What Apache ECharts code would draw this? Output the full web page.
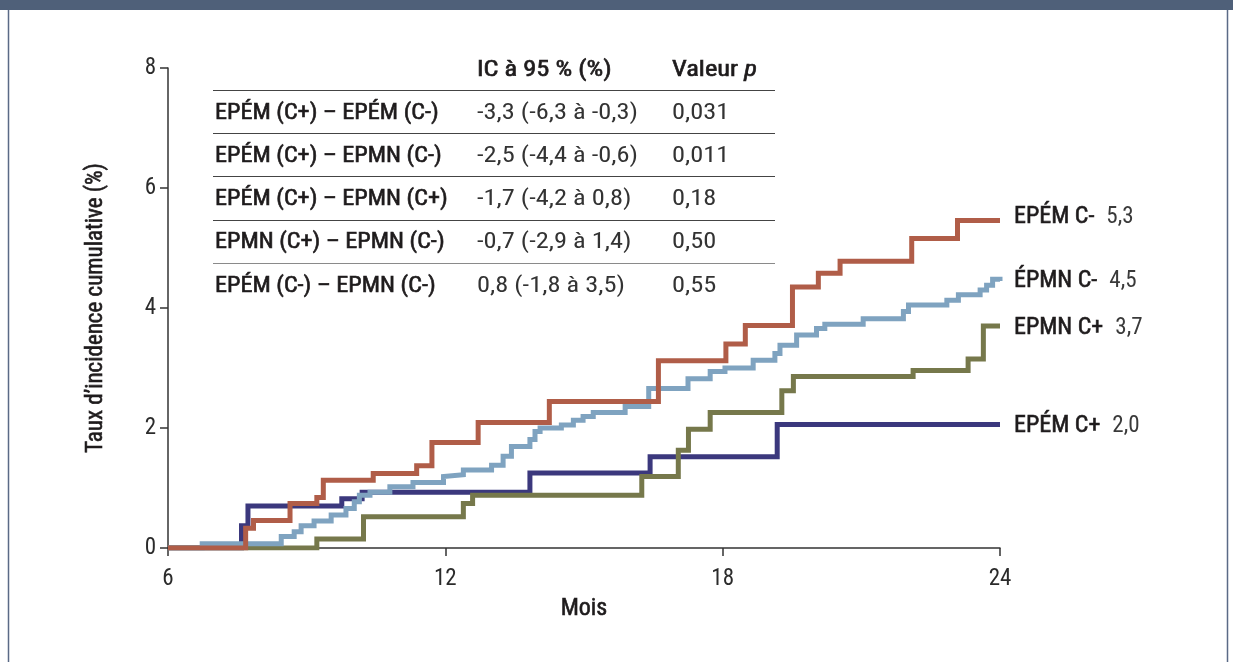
<!DOCTYPE html>
<html><head><meta charset="utf-8">
<script src="https://cdn.jsdelivr.net/npm/echarts@6/dist/echarts.min.js"></script>
<style>
html,body{margin:0;padding:0;background:#fff;}
#chart{position:absolute;left:0;top:0;width:1233px;height:662px;}
</style></head>
<body>
<div id="chart"></div>
<script>
// ---- Data ----
const seriesNames = ['EPÉM C+', 'EPMN C+', 'ÉPMN C-', 'EPÉM C-'];
const endValues = ['2,0', '3,7', '4,5', '5,3'];
// [month of step, new cumulative incidence %]
const epemCplus = [[6,0],[7.59,0.37],[7.73,0.70],[9.76,0.82],[10.2,0.93],[13.83,1.25],[16.43,1.52],[19.18,2.06],[24,2.06]];
const epmnCplus = [[6,0],[9.22,0.15],[10.23,0.52],[12.39,0.74],[12.59,0.88],[16.25,1.19],[17.04,1.63],[17.26,1.98],[17.73,2.26],[19.28,2.62],[19.53,2.86],[22.12,2.96],[23.31,3.15],[23.64,3.70],[24,3.70]];
const epmnCminus = [[6,0],[6.74,0.07],[8.45,0.19],[8.73,0.27],[8.88,0.37],[9.16,0.45],[9.53,0.55],[9.85,0.66],[10.03,0.77],[10.14,0.88],[10.37,0.93],[10.8,1.02],[11.3,1.09],[11.96,1.19],[12.0,1.22],[12.39,1.30],[13.0,1.38],[13.25,1.53],[13.43,1.69],[13.83,1.81],[13.94,1.94],[14.05,2.00],[14.51,2.05],[14.77,2.13],[14.98,2.19],[15.2,2.26],[15.89,2.36],[16.4,2.66],[17.25,2.82],[17.73,2.94],[18.05,3.0],[18.66,3.13],[19.13,3.24],[19.24,3.38],[19.6,3.55],[20.03,3.66],[20.21,3.73],[21.04,3.82],[21.91,3.94],[22.02,4.05],[22.85,4.13],[23.1,4.22],[23.57,4.30],[23.71,4.38],[23.84,4.48],[24,4.45]];
const epemCminus = [[6,0],[7.68,0.33],[7.85,0.46],[8.64,0.74],[9.22,0.84],[9.36,1.13],[10.44,1.24],[11.38,1.37],[11.71,1.76],[12.71,2.09],[14.25,2.44],[16.61,3.12],[18.07,3.40],[18.49,3.71],[19.51,4.35],[20.07,4.58],[20.54,4.78],[22.09,5.16],[23.08,5.46],[24,5.46]];
const seriesData = [epemCplus, epmnCplus, epmnCminus, epemCminus];
const seriesColors = ['#3b387d', '#76784b', '#7fa3c0', '#b05d48'];

const xTicks = [6, 12, 18, 24];
const yTicks = [0, 2, 4, 6, 8];

const tableHeader = ['', 'IC à 95 % (%)', 'Valeur ', 'p'];
const tableRows = [
  ['EPÉM (C+) – EPÉM (C-)', '-3,3 (-6,3 à -0,3)', '0,031'],
  ['EPÉM (C+) – EPMN (C-)', '-2,5 (-4,4 à -0,6)', '0,011'],
  ['EPÉM (C+) – EPMN (C+)', '-1,7 (-4,2 à 0,8)', '0,18'],
  ['EPMN (C+) – EPMN (C-)', '-0,7 (-2,9 à 1,4)', '0,50'],
  ['EPÉM (C-) – EPMN (C-)', '0,8 (-1,8 à 3,5)', '0,55']
];

// ---- Layout ----
const FONT = "'Liberation Sans Narrow', 'Roboto Condensed', 'Roboto', sans-serif";
const TXT = '#1e1b1c';
const VAL = '#333333';
const chart = echarts.init(document.getElementById('chart'), null, {renderer: 'canvas'});

const graphics = [];
graphics.push({type:'rect', shape:{x:0,y:0,width:1233,height:10}, style:{fill:'#4f6079'}, silent:true});
graphics.push({type:'line', shape:{x1:8.5,y1:10,x2:8.5,y2:662}, style:{stroke:'#5a6a86', lineWidth:1.5}, silent:true});
graphics.push({type:'line', shape:{x1:1227.5,y1:10,x2:1227.5,y2:662}, style:{stroke:'#5a6a86', lineWidth:1.5}, silent:true});

// table
const colX = [215, 477, 672];
const rowY0 = 70, rowH = 43.2;
const lineX1 = 213, lineX2 = 775;
function txt(x, cy, text, font, fill, sx, medium) {
  const st = {text: text, font: font, fill: fill, verticalAlign: 'middle', align: 'left'};
  if (medium) { st.stroke = fill; st.lineWidth = 0.6; }
  graphics.push({type:'text', x: x, y: cy, scaleX: sx, style: st, silent: true});
}
const REG = '22px ' + FONT;
const measureCtx = document.createElement('canvas').getContext('2d');
measureCtx.font = REG;
const valeurW = measureCtx.measureText(tableHeader[2]).width * 1.2;
txt(colX[1], rowY0, tableHeader[1], REG, TXT, 1.2, true);
txt(colX[2], rowY0, tableHeader[2], REG, TXT, 1.2, true);
txt(colX[2] + valeurW, rowY0, tableHeader[3], 'italic 22px ' + FONT, TXT, 1.2, true);
for (let r = 0; r < tableRows.length; r++) {
  const ly = Math.round(rowY0 + 20 + r * rowH) + 0.5;
  graphics.push({type:'line', shape:{x1:lineX1, y1:ly, x2:lineX2, y2:ly}, style:{stroke: r===tableRows.length-1 ? '#8a8a8a' : '#444', lineWidth:1.2}, silent:true});
}
tableRows.forEach((row, r) => {
  const cy = rowY0 + (r + 1) * rowH;
  txt(colX[0], cy, row[0], REG, TXT, 1.1, true);
  txt(colX[1], cy, row[1], REG, VAL, 1.2, false);
  txt(colX[2], cy, row[2], REG, VAL, 1.2, false);
});

const endLabelOffsets = [[0,2],[0,2],[0,0],[0,-3]];

const option = {
  animation: false,
  backgroundColor: '#fff',
  grid: {left: 168, right: 233, top: 68, bottom: 114, containLabel: false},
  xAxis: {
    type: 'value', min: 6, max: 24, interval: 6,
    name: 'Mois', nameLocation: 'middle', nameGap: 49,
    nameTextStyle: {fontFamily: FONT, fontSize: 24, color: TXT, textBorderColor: TXT, textBorderWidth: 0.6},
    axisLine: {show: true, onZero: false, lineStyle: {color: '#333', width: 1.5}},
    axisTick: {show: true, length: 8, lineStyle: {color: '#333', width: 1.5}},
    axisLabel: {margin: 20, fontFamily: FONT, fontSize: 23, color: '#2b2b2b',
      formatter: v => xTicks.includes(v) ? String(v) : ''},
    splitLine: {show: false}
  },
  yAxis: {
    type: 'value', min: 0, max: 8, interval: 2,
    name: "Taux d’incidence cumulative (%)", nameLocation: 'middle', nameGap: 60,
    nameTextStyle: {fontFamily: FONT, fontSize: 23, color: TXT, textBorderColor: TXT, textBorderWidth: 0.6},
    axisLine: {show: true, lineStyle: {color: '#333', width: 1.5}},
    axisTick: {show: true, length: 8, lineStyle: {color: '#333', width: 1.5}},
    axisLabel: {margin: 12, fontFamily: FONT, fontSize: 23, color: '#2b2b2b',
      formatter: v => yTicks.includes(v) ? String(v) : ''},
    splitLine: {show: false}
  },
  series: seriesData.map((d, i) => ({
    type: 'line', name: seriesNames[i], data: d, step: 'end', showSymbol: false, symbol: 'none',
    z: 2 + i,
    lineStyle: {color: seriesColors[i], width: 5, cap: 'butt', join: 'miter'},
    itemStyle: {color: seriesColors[i]},
    endLabel: {
      show: true, distance: 14, offset: endLabelOffsets[i],
      formatter: () => '{n|' + seriesNames[i] + '}{v|' + endValues[i] + '}',
      rich: {
        n: {fontFamily: FONT, fontSize: 24, color: TXT, textBorderColor: TXT, textBorderWidth: 0.6},
        v: {fontFamily: FONT, fontSize: 23, color: '#3a3a3a', padding: [0, 0, 0, 12]}
      }
    }
  })),
  graphic: graphics
};
chart.setOption(option);
</script>
</body></html>
